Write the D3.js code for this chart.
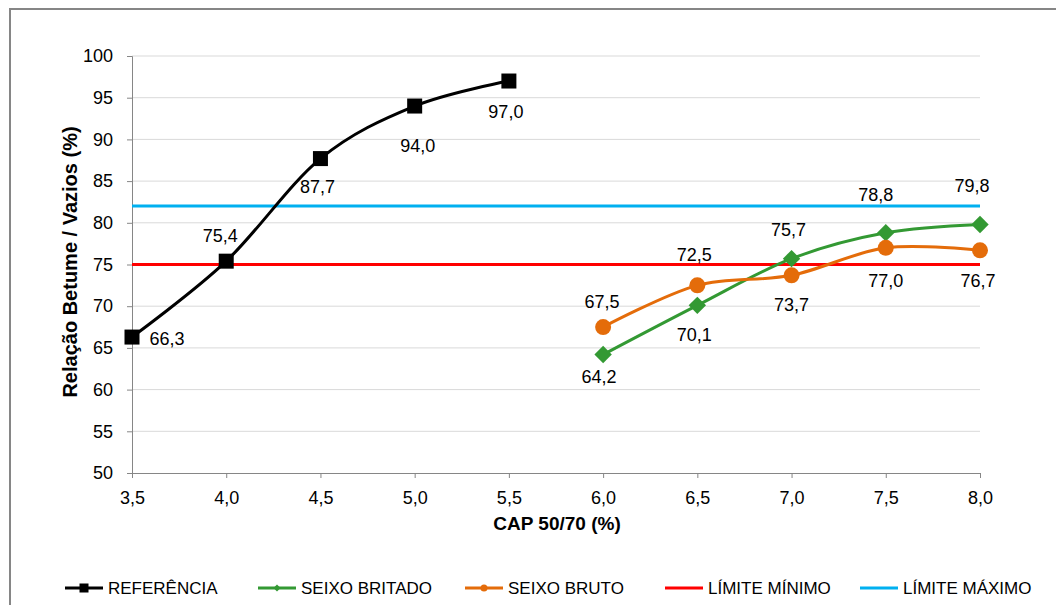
<!DOCTYPE html>
<html><head><meta charset="utf-8">
<script src="https://cdn.jsdelivr.net/npm/d3@7"></script>
<style>body{margin:0;background:#fff}svg{display:block;font-family:"Liberation Sans",Arial,sans-serif}</style>
</head><body><svg id="c" width="1056" height="605"></svg>
<script>
const refX = [3.5, 4.0, 4.5, 5.0, 5.5];
const refY = [66.3, 75.4, 87.7, 94.0, 97.0];
const seixoX = [6.0, 6.5, 7.0, 7.5, 8.0];
const britadoY = [64.2, 70.1, 75.7, 78.8, 79.8];
const brutoY = [67.5, 72.5, 73.7, 77.0, 76.7];
const limX = [3.5, 8.0];
const limMin = 75;
const limMax = 82;
const xTicks = [3.5, 4.0, 4.5, 5.0, 5.5, 6.0, 6.5, 7.0, 7.5, 8.0];
const yTicks = [50, 55, 60, 65, 70, 75, 80, 85, 90, 95, 100];
const names = ["REFERÊNCIA", "SEIXO BRITADO", "SEIXO BRUTO", "LÍMITE MÍNIMO", "LÍMITE MÁXIMO"];

const svg = d3.select("#c");
const x = d3.scaleLinear().domain([3.5, 8.0]).range([132, 980]);
const y = d3.scaleLinear().domain([50, 100]).range([473, 56]);
const fmt = v => d3.format(".1f")(v).replace(".", ",");

// border
svg.append("path").attr("d", "M10,605 V9 H1056").attr("fill", "none").attr("stroke", "#868686").attr("stroke-width", 2);

// gridlines
svg.append("g").selectAll("line").data(yTicks.slice(1)).join("line")
  .attr("x1", x(3.5)).attr("x2", x(8.0)).attr("y1", d => y(d)).attr("y2", d => y(d))
  .attr("stroke", "#d9d9d9").attr("stroke-width", 1);

// axes
const yAxis = d3.axisLeft(y).tickValues(yTicks).tickSize(5).tickPadding(14).tickFormat(d3.format("d"));
const gy = svg.append("g").attr("transform", `translate(${x(3.5)},0)`).call(yAxis);
const xAxis = d3.axisBottom(x).tickValues(xTicks).tickSize(5).tickPadding(13).tickFormat(fmt);
const gx = svg.append("g").attr("transform", `translate(0,${y(50)})`).call(xAxis);
[gx, gy].forEach(g => {
  g.select(".domain").attr("stroke", "#868686");
  g.selectAll(".tick line").attr("stroke", "#868686");
  g.selectAll("text").attr("font-size", 18).attr("fill", "#000").attr("font-family", "Liberation Sans, Arial, sans-serif");
});

// titles
svg.append("text").attr("x", 557).attr("y", 530).attr("text-anchor", "middle")
  .attr("font-size", 19).attr("font-weight", "bold").text("CAP 50/70 (%)");
svg.append("text").attr("transform", "translate(77,262) rotate(-90)").attr("text-anchor", "middle")
  .attr("font-size", 20).attr("font-weight", "bold").text("Relação Betume / Vazios (%)");

// limit lines
const lineFlat = (v, color) => svg.append("line").attr("x1", x(limX[0])).attr("x2", x(limX[1]))
  .attr("y1", y(v)).attr("y2", y(v)).attr("stroke", color).attr("stroke-width", 3);
lineFlat(limMin, "#ff0000");
lineFlat(limMax, "#00b0f0");

const curve = d3.curveCardinal.tension(0);
const line = d3.line().x(d => x(d[0])).y(d => y(d[1])).curve(curve);

const series = [
  {xs: refX, ys: refY, color: "#000000", marker: "square"},
  {xs: seixoX, ys: britadoY, color: "#339933", marker: "diamond"},
  {xs: seixoX, ys: brutoY, color: "#e46c0a", marker: "circle"}
];
series.forEach(s => {
  const pts = s.xs.map((v, i) => [v, s.ys[i]]);
  svg.append("path").attr("d", line(pts)).attr("fill", "none").attr("stroke", s.color).attr("stroke-width", 3);
});

function marker(g, type, cx, cy, color, size) {
  if (type === "square") g.append("rect").attr("x", cx - size / 2).attr("y", cy - size / 2).attr("width", size).attr("height", size).attr("fill", color);
  else if (type === "diamond") { const r = size * 0.58; g.append("path").attr("d", `M${cx},${cy - r}L${cx + r},${cy}L${cx},${cy + r}L${cx - r},${cy}Z`).attr("fill", color); }
  else g.append("circle").attr("cx", cx).attr("cy", cy).attr("r", size / 2 + 0.5).attr("fill", color);
}
const mg = svg.append("g");
series.forEach(s => s.xs.forEach((v, i) => marker(mg, s.marker, x(v), y(s.ys[i]), s.color, 15)));

// data labels: [dx, baseline dy] offsets relative to point
const refOff = [[35, 8], [-6, -19], [-3, 34], [3, 46], [-3, 37]];
const britOff = [[-4, 28], [-3, 36], [-3, -23], [-10, -32], [-8, -32]];
const brutOff = [[-1, -19], [-3, -24], [0, 36], [0, 39], [-2, 37]];
const lg = svg.append("g").attr("font-size", 18).attr("text-anchor", "middle");
[[series[0], refOff], [series[1], britOff], [series[2], brutOff]].forEach(([s, off]) => {
  s.xs.forEach((v, i) => {
    lg.append("text").attr("x", x(v) + off[i][0]).attr("y", y(s.ys[i]) + off[i][1]).text(fmt(s.ys[i]));
  });
});

// legend
const legendItems = [
  {name: names[0], color: "#000000", marker: "square", x0: 65},
  {name: names[1], color: "#339933", marker: "diamond", x0: 258},
  {name: names[2], color: "#e46c0a", marker: "circle", x0: 465},
  {name: names[3], color: "#ff0000", marker: null, x0: 665},
  {name: names[4], color: "#00b0f0", marker: null, x0: 860}
];
const leg = svg.append("g");
legendItems.forEach(it => {
  const ly = 588;
  leg.append("line").attr("x1", it.x0).attr("x2", it.x0 + 38).attr("y1", ly).attr("y2", ly).attr("stroke", it.color).attr("stroke-width", 3);
  if (it.marker) marker(leg, it.marker, it.x0 + 19, ly, it.color, it.marker === "square" ? 9 : 6);
  leg.append("text").attr("x", it.x0 + 43).attr("y", ly + 6).attr("font-size", 17).text(it.name);
});
</script></body></html>
